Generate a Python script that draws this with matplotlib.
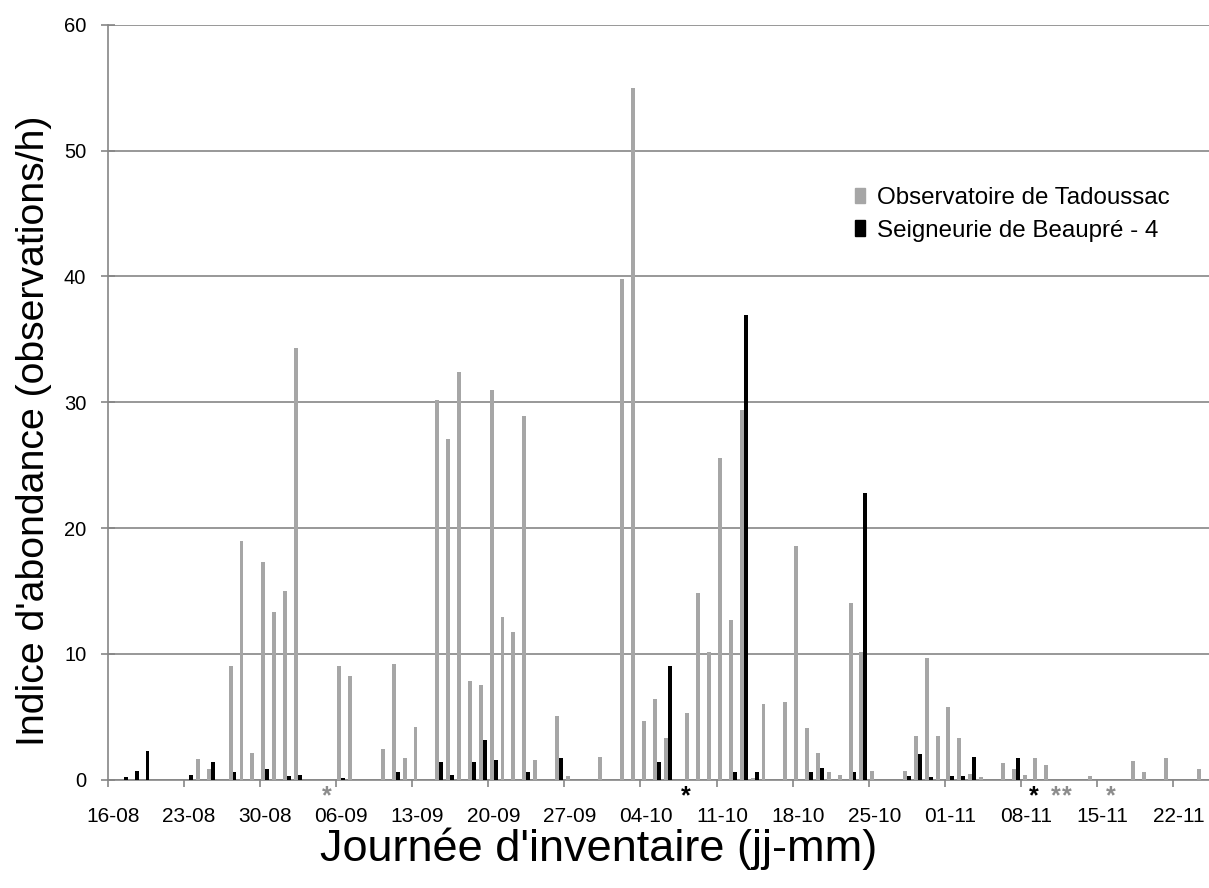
import numpy as np
import pandas as pd
import matplotlib
matplotlib.use('Agg')
import matplotlib.pyplot as plt
from matplotlib.patches import Patch

# daily categories, 16-08 to 24-11
dates = pd.date_range('2013-08-16', '2013-11-24', freq='D')
day_labels = [d.strftime('%d-%m') for d in dates]

# Observatoire de Tadoussac (observations/h), one row per week
tadoussac = [
    0, 0, 0, 0, 0, 0, 0,
    0, 1.6, 0.8, 0, 9.05, 19.0, 2.1,
    17.3, 13.3, 15.0, 34.3, 0, 0, 0,
    9.05, 8.25, 0, 0, 2.45, 9.15, 1.7,
    4.2, 0, 30.2, 27.1, 32.4, 7.85, 7.5,
    31.0, 12.9, 11.7, 28.9, 1.57, 0, 5.08,
    0.27, 0, 0, 1.78, 0, 39.8, 55.0,
    4.65, 6.41, 3.33, 0, 5.3, 14.8, 10.13,
    25.6, 12.7, 29.4, 0.13, 6.0, 0, 6.2,
    18.6, 4.1, 2.1, 0.59, 0.35, 14.0, 10.13,
    0.69, 0, 0, 0.69, 3.43, 9.68, 3.43,
    5.75, 3.33, 0.45, 0.19, 0, 1.33, 0.8,
    0.35, 1.68, 1.12, 0, 0, 0, 0.24,
    0, 0, 0, 1.46, 0.59, 0, 1.68,
    0, 0, 0.8,
]

# Seigneurie de Beaupré - 4
beaupre = [
    0, 0.16, 0.69, 2.23, 0, 0, 0,
    0.35, 0, 1.36, 0, 0.59, 0, 0,
    0.8, 0, 0.27, 0.35, 0, 0, 0,
    0.15, 0, 0, 0, 0, 0.59, 0,
    0, 0, 1.36, 0.37, 0, 1.36, 3.14,
    1.57, 0, 0, 0.59, 0, 0, 1.7,
    0, 0, 0, 0, 0, 0, 0,
    0, 1.36, 9.05, 0, 0, 0, 0,
    0, 0.59, 36.9, 0.59, 0, 0, 0,
    0, 0.59, 0.93, 0, 0, 0.59, 22.8,
    0, 0, 0, 0.27, 2.02, 0.19, 0,
    0.27, 0.27, 1.78, 0, 0, 0, 1.68,
    0, 0, 0, 0, 0, 0, 0,
    0, 0, 0, 0, 0, 0, 0,
    0, 0, 0,
]

# days marked with an asterisk under the axis
star_gray = ['05-09', '11-11', '12-11', '16-11']
star_black = ['08-10', '09-11']

plt.rcParams['font.family'] = ['Liberation Sans', 'DejaVu Sans']

GRAY = '#a6a6a6'
LINE = '#868686'

fig = plt.figure(figsize=(12.09, 8.88), dpi=100)
W, H = 1209, 888
ax = fig.add_axes([107.5 / W, 108.5 / H, (W - 107.5) / W, (779.5 - 25) / H])

x = np.arange(len(day_labels))
bw = 0.36
ax.bar(x - bw / 2, tadoussac, bw, color=GRAY, zorder=3)
ax.bar(x + bw / 2, beaupre, bw, color='black', zorder=3)

ax.set_ylim(0, 60)
ax.set_xlim(-0.5, (W - 107.5) / 10.876 - 0.5)
ax.set_yticks(range(0, 61, 10))
ax.yaxis.grid(True, color=LINE, lw=1.2)
ax.set_axisbelow(True)

for s in ['top', 'right']:
    ax.spines[s].set_visible(False)
for s in ['left', 'bottom']:
    ax.spines[s].set_color(LINE)
    ax.spines[s].set_linewidth(1.2)

ax.tick_params(axis='y', direction='inout', length=10.5, width=1.2, color=LINE,
               labelsize=14.5, pad=10)
ax.set_xticks(x[::7])
ax.set_xticklabels(day_labels[::7])
ax.set_xticks(x[::7] - 0.5, minor=True)
ax.tick_params(axis='x', which='major', length=0, labelsize=15, pad=20)
ax.tick_params(axis='x', which='minor', direction='out', length=5, width=1.2, color=LINE)

for d in star_gray:
    ax.text(day_labels.index(d) - 0.3, -1.35, '*', color='#8c8c8c', fontsize=18,
            fontweight='bold', ha='center', va='center', clip_on=False)
for d in star_black:
    ax.text(day_labels.index(d) - 0.3, -1.35, '*', color='black', fontsize=18,
            fontweight='bold', ha='center', va='center', clip_on=False)

ax.set_ylabel("Indice d'abondance (observations/h)", fontsize=28.3)
ax.yaxis.set_label_coords(-0.0504, 0.462)
ax.set_xlabel("Journée d'inventaire (jj-mm)", fontsize=32.5)
ax.xaxis.set_label_coords(0.446, -0.064)

handles = [Patch(color=GRAY), Patch(color='black')]
ax.legend(handles, ['Observatoire de Tadoussac', 'Seigneurie de Beaupré - 4'],
          loc='upper left', bbox_to_anchor=(726 / (W - 107.5), 1 - 140 / 754.5),
          frameon=False, fontsize=17.4, handlelength=0.4, handleheight=0.6,
          handletextpad=0.5, labelspacing=0.45)

fig.savefig('out.png', dpi=100)
